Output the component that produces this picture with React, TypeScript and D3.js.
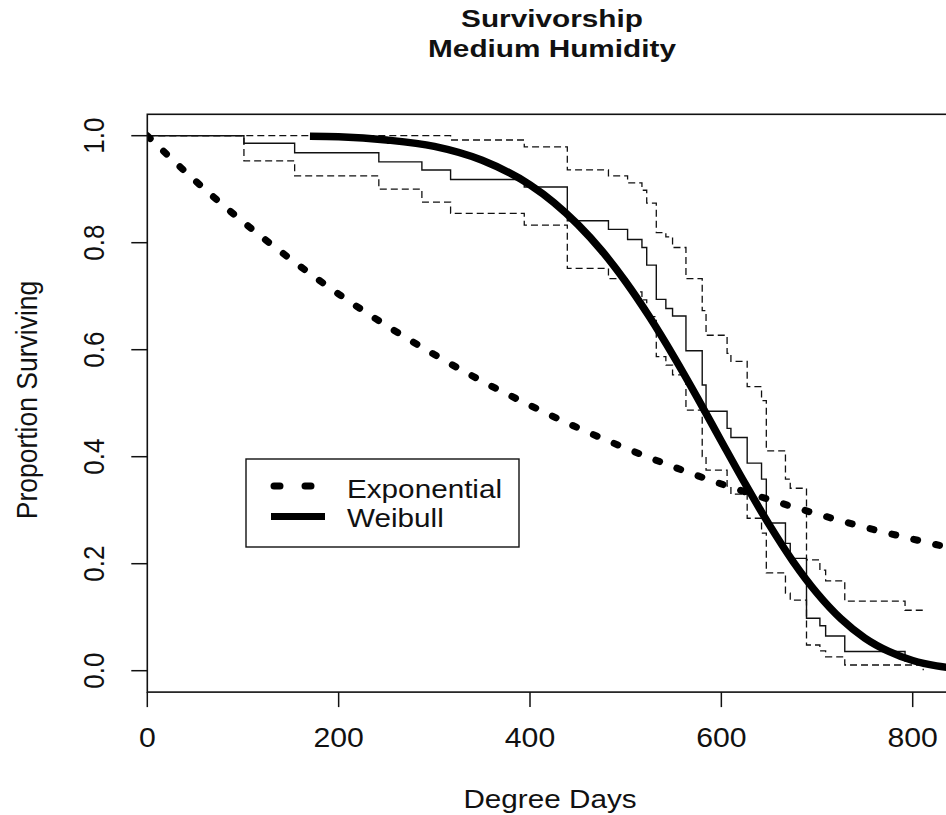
import React from "react";
import * as d3 from "d3";

// ---- data ----
const xTicks = [0, 200, 400, 600, 800];
const yTicks = [0, 0.2, 0.4, 0.6, 0.8, 1.0];
const yTickLabels = ["0.0", "0.2", "0.4", "0.6", "0.8", "1.0"];

// Exponential fit (dotted thick curve)
const expT = [0, 50, 100, 150, 200, 250, 300, 350, 400, 450, 500, 550, 600, 650, 700, 750, 800, 850];
const expS = [1.0, 0.916, 0.839, 0.769, 0.704, 0.645, 0.591, 0.541, 0.496, 0.454, 0.416, 0.381, 0.349, 0.32, 0.293, 0.268, 0.246, 0.225];

// Weibull fit (solid thick curve)
const weiT = [170, 200, 250, 300, 350, 400, 425, 450, 475, 500, 525, 550, 575, 600, 625, 650, 675, 700, 725, 750, 775, 800, 825, 850];
const weiS = [0.999, 0.998, 0.992, 0.98, 0.954, 0.908, 0.875, 0.834, 0.785, 0.727, 0.661, 0.588, 0.51, 0.429, 0.349, 0.273, 0.204, 0.145, 0.097, 0.061, 0.036, 0.019, 0.009, 0.004];

// Kaplan-Meier step estimate and confidence bounds
const stepT = [0, 101, 154, 242, 287, 317, 394, 439, 482, 502, 517, 522, 532, 542, 549, 563, 580, 584, 606, 610, 627, 642, 647, 667, 672, 689, 703, 709, 729, 792, 811];
const kmS = [1.0, 0.986, 0.968, 0.951, 0.936, 0.918, 0.904, 0.841, 0.825, 0.806, 0.791, 0.758, 0.694, 0.677, 0.663, 0.598, 0.534, 0.485, 0.453, 0.436, 0.388, 0.358, 0.276, 0.238, 0.21, 0.098, 0.084, 0.065, 0.036, 0.018, 0.018];
const upperS = [1, 1, 1, 1, 1, 0.992, 0.979, 0.936, 0.925, 0.912, 0.898, 0.874, 0.819, 0.811, 0.791, 0.733, 0.673, 0.627, 0.593, 0.578, 0.531, 0.505, 0.411, 0.358, 0.341, 0.207, 0.188, 0.168, 0.13, 0.113, 0.113];
const lowerS = [1, 0.953, 0.925, 0.9, 0.876, 0.855, 0.833, 0.752, 0.733, 0.708, 0.693, 0.662, 0.587, 0.571, 0.553, 0.487, 0.4, 0.375, 0.345, 0.33, 0.285, 0.257, 0.183, 0.145, 0.132, 0.048, 0.037, 0.026, 0.0107, 0.0107, 0.001];

const legendLabels = ["Exponential", "Weibull"];

const W = 946;
const H = 815;
const FONT = "Arial, 'Liberation Sans', Helvetica, sans-serif";
const SX = 1.12;

type TProps = {
  x: number;
  y: number;
  size: number;
  anchor?: "start" | "middle" | "end";
  weight?: string;
  rotate?: number;
  sx?: number;
  children: React.ReactNode;
};

function T({ x, y, size, anchor = "middle", weight = "normal", rotate = 0, sx = SX, children }: TProps) {
  return (
    <text
      transform={`translate(${x},${y}) scale(${sx},1) rotate(${rotate})`}
      fontFamily={FONT}
      fontSize={size}
      fontWeight={weight}
      textAnchor={anchor}
      fill="#111"
    >
      {children}
    </text>
  );
}

export default function App() {
  const x = d3.scaleLinear().domain([0, 800]).range([147.3, 912.7]);
  const y = d3.scaleLinear().domain([0, 1]).range([670.7, 135.7]);

  const boxL = x(0);
  const boxR = x(846);
  const boxT = y(1.04);
  const boxB = y(-0.04);

  const smooth = d3
    .line<[number, number]>()
    .x((d) => x(d[0]))
    .y((d) => y(d[1]))
    .curve(d3.curveMonotoneX);
  const step = d3
    .line<[number, number]>()
    .x((d) => x(d[0]))
    .y((d) => y(d[1]))
    .curve(d3.curveStepAfter);

  const expPts = expT.map((t, i) => [t, expS[i]] as [number, number]);
  const weiPts = weiT.map((t, i) => [t, weiS[i]] as [number, number]);
  const kmPts = stepT.map((t, i) => [t, kmS[i]] as [number, number]);
  const upPts = stepT.map((t, i) => [t, upperS[i]] as [number, number]);
  const loPts = stepT.map((t, i) => [t, lowerS[i]] as [number, number]);

  return (
    <svg
      width={W}
      height={H}
      style={{ position: "absolute", left: 0, top: 0, background: "#fff" }}
    >
      <rect x={0} y={0} width={W} height={H} fill="#fff" />
      {/* title */}
      <T x={552} y={27} size={24} weight="bold" sx={1.24}>Survivorship</T>
      <T x={552} y={57} size={24} weight="bold" sx={1.24}>Medium Humidity</T>

      <defs>
        <clipPath id="plotclip">
          <rect x={boxL} y={boxT} width={boxR - boxL} height={boxB - boxT} />
        </clipPath>
      </defs>

      <g clipPath="url(#plotclip)">
        {/* KM steps */}
        <path d={step(upPts) || ""} fill="none" stroke="#111" strokeWidth={1.3} strokeDasharray="7 4" />
        <path d={step(loPts) || ""} fill="none" stroke="#111" strokeWidth={1.3} strokeDasharray="7 4" />
        <path d={step(kmPts) || ""} fill="none" stroke="#111" strokeWidth={1.4} />
        {/* Exponential */}
        <path
          d={smooth(expPts) || ""}
          fill="none"
          stroke="#000"
          strokeWidth={7}
          strokeLinecap="round"
          strokeDasharray="4 18.5"
        />
        {/* Weibull */}
        <path d={smooth(weiPts) || ""} fill="none" stroke="#000" strokeWidth={7.5} />
      </g>

      {/* box */}
      <rect x={boxL} y={boxT} width={boxR - boxL} height={boxB - boxT} fill="none" stroke="#111" strokeWidth={1.6} />

      {/* x axis */}
      {xTicks.map((t) => (
        <g key={t}>
          <line x1={x(t)} x2={x(t)} y1={boxB} y2={boxB + 15} stroke="#111" strokeWidth={1.5} />
          <T x={x(t)} y={747} size={27}>{String(t)}</T>
        </g>
      ))}
      <T x={550} y={808} size={26.5}>Degree Days</T>

      {/* y axis */}
      {yTicks.map((t, i) => (
        <g key={t}>
          <line x1={boxL - 16} x2={boxL} y1={y(t)} y2={y(t)} stroke="#111" strokeWidth={1.5} />
          <T x={104} y={y(t)} size={26} rotate={-90}>{yTickLabels[i]}</T>
        </g>
      ))}
      <T x={37} y={400} size={26.5} rotate={-90}>Proportion Surviving</T>

      {/* legend */}
      <rect x={246} y={459} width={273} height={88} fill="#fff" stroke="#111" strokeWidth={1.4} />
      <line x1={274} x2={325} y1={486} y2={486} stroke="#000" strokeWidth={7} strokeLinecap="round" strokeDasharray="6 25" />
      <line x1={271} x2={325} y1={516.5} y2={516.5} stroke="#000" strokeWidth={7} />
      <T x={347} y={498} size={26.5} anchor="start">{legendLabels[0]}</T>
      <T x={347} y={527} size={26.5} anchor="start">{legendLabels[1]}</T>
    </svg>
  );
}
